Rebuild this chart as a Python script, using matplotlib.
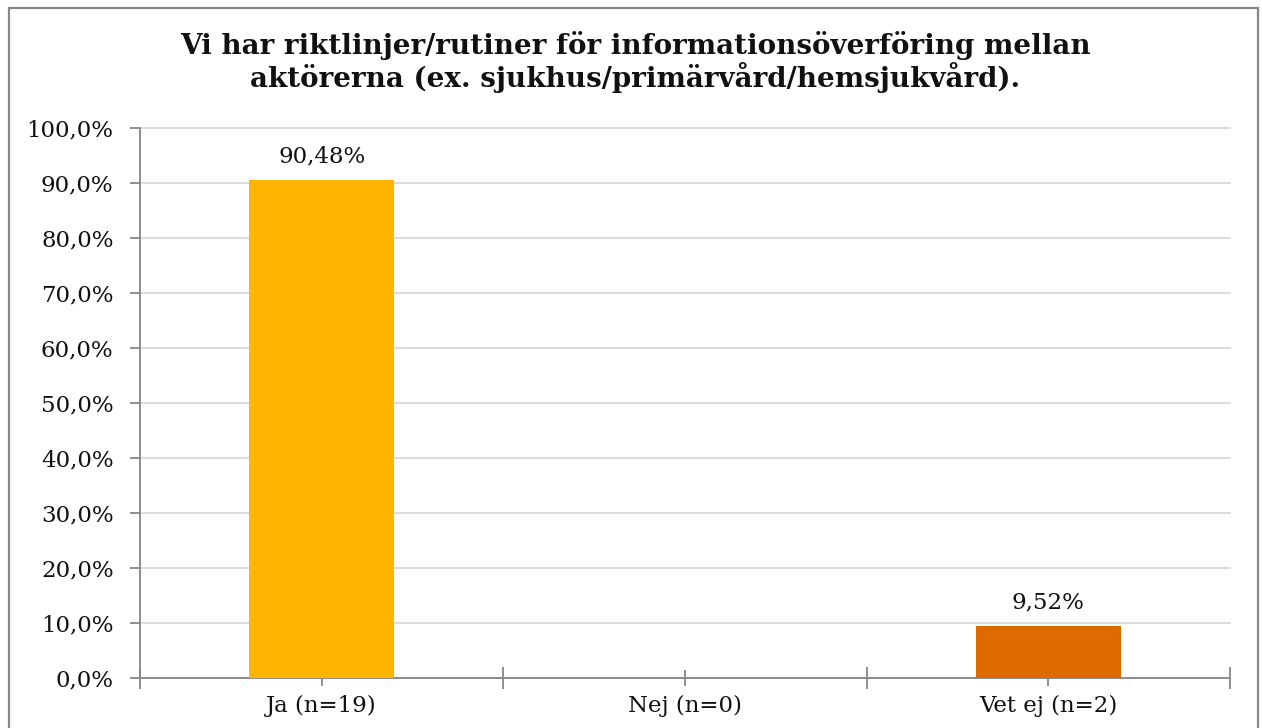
import matplotlib
matplotlib.use("Agg")
import matplotlib.pyplot as plt
from matplotlib.patches import Rectangle
from matplotlib.ticker import FuncFormatter, FixedLocator

categories = ["Ja (n=19)", "Nej (n=0)", "Vet ej (n=2)"]
values = [90.48, 0.0, 9.52]
bar_labels = ["90,48%", "", "9,52%"]
colors = ["#FFB400", "#FFB400", "#DD6B00"]
title = ("Vi har riktlinjer/rutiner för informationsöverföring mellan\n"
         "aktörerna (ex. sjukhus/primärvård/hemsjukvård).")

W, H = 1262, 728
fig = plt.figure(figsize=(W / 100, H / 100), dpi=100)
plt.rcParams['font.family'] = ['DejaVu Serif']

# outer border
fig.patches.append(Rectangle((9 / W, -0.05), (1258 - 9) / W, 1.05 - 8 / H,
                             transform=fig.transFigure, fill=False,
                             edgecolor="#878787", linewidth=1.6))

ax = fig.add_axes([140 / W, (H - 678) / H, (1230 - 140) / W, (678 - 128) / H])
x = list(range(len(categories)))
ax.bar(x, values, width=0.40, color=colors, zorder=3)

for xi, v, lab in zip(x, values, bar_labels):
    if lab:
        ax.annotate(lab, (xi, v), xytext=(0, 9), textcoords="offset points",
                    ha="center", va="bottom", fontsize=16.5, color="#111111")

ax.set_xlim(-0.5, 2.5)
ax.set_ylim(0, 100)
ax.set_yticks(range(0, 101, 10))
ax.yaxis.set_major_formatter(FuncFormatter(lambda v, p: f"{v:.1f}%".replace(".", ",")))
ax.set_xticks(x)
ax.set_xticklabels(categories)
ax.xaxis.set_minor_locator(FixedLocator([-0.5, 0.5, 1.5, 2.5]))

ax.grid(axis="y", color="#D9D9D9", linewidth=1.3, zorder=0)
for gl in ax.get_ygridlines():
    gl.set_clip_on(False)
for s in ["top", "right"]:
    ax.spines[s].set_visible(False)
for s in ["left", "bottom"]:
    ax.spines[s].set_color("#868686")
    ax.spines[s].set_linewidth(1.3)

ax.tick_params(axis="y", direction="out", length=7, width=1.3, color="#868686",
               labelsize=16.5, pad=12, labelcolor="#111111")
ax.tick_params(axis="x", which="major", direction="inout", length=12, width=1.3,
               color="#868686", labelsize=16.5, pad=6, labelcolor="#111111")
ax.tick_params(axis="x", which="minor", direction="inout", length=16, width=1.3,
               color="#868686")

fig.text(635 / W, 1 - 62 / H, title, ha="center", va="center",
         fontsize=20, fontweight="bold", color="#111111", linespacing=1.1)

fig.savefig("out.png", dpi=100, facecolor="white")
